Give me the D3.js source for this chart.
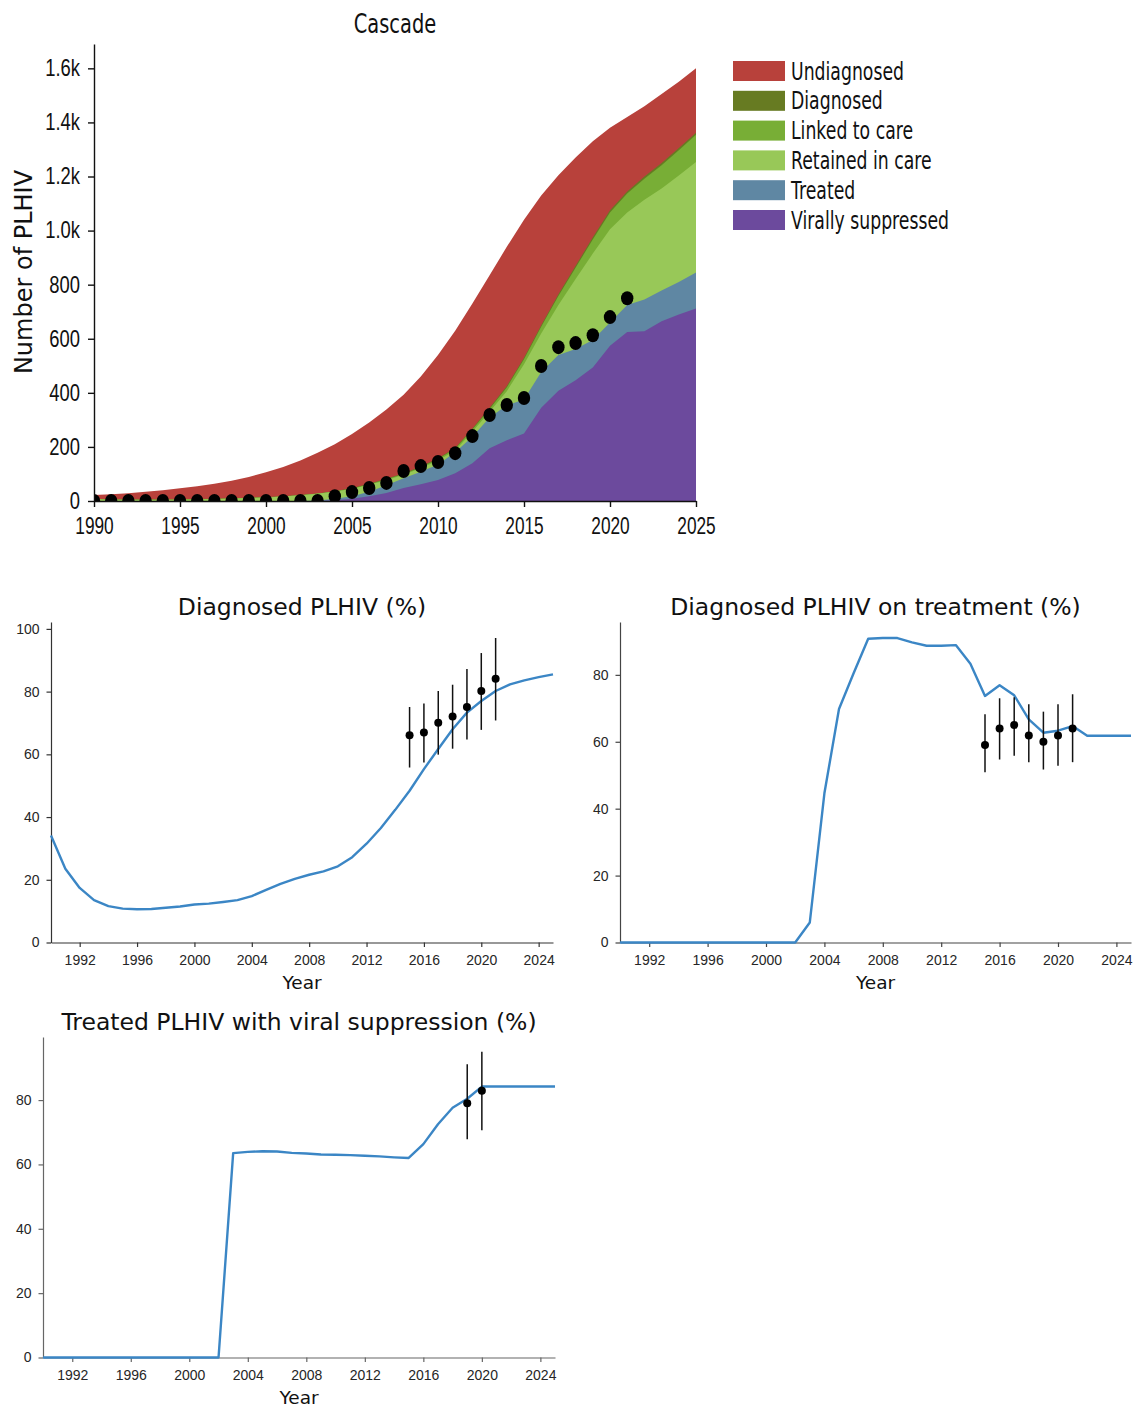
<!DOCTYPE html>
<html>
<head>
<meta charset="utf-8">
<script src="https://cdn.jsdelivr.net/npm/d3@7"></script>
<style>
  body { margin: 0; background: #fff; }
  svg { display: block; font-family: "DejaVu Sans", sans-serif; }
</style>
</head>
<body>
<svg id="chart" width="1138" height="1407"></svg>
<script>
// ---- cascade data (numbers of PLHIV, 1990..2025) ----
var years = d3.range(1990, 2026);
var plhiv      = [22,25,29,34,40,47,55,64,75,89,106,126,150,178,210,248,290,338,393,460,540,630,730,835,940,1040,1130,1205,1270,1330,1380,1420,1460,1505,1550,1600];
var diagnosed  = [7.5,6,5.5,5.5,5.5,6,7,8,10,12,14,18,22,28,36,48,64,82,103,128,158,196,268,345,425,530,650,765,870,975,1075,1145,1200,1250,1305,1362];
var linked     = [7,5.5,5,5,5,5.5,6.5,7.5,9.5,11.5,13.5,17.5,21.5,27.5,35.5,46,62,80,100,125,155,193,264,340,420,524,644,758,863,967,1067,1137,1192,1242,1297,1354];
var retained   = [6.5,5,4.5,4.5,4.5,5,6,7,9,11,13,17,21,27,35,44,60,77,97,121,150,187,256,330,406,506,619,725,821,915,1005,1067,1114,1156,1204,1254];
var treated    = [0,0,0,0,0,0,0,0,0,0,0,0,0,2,8,18,34,58,84,108,135,180,238,309,354,375,477,540,562,595,660,725,745,778,810,845];
var suppressed = [0,0,0,0,0,0,0,0,0,0,0,0,0,0,3,8,18,30,48,62,78,103,140,195,225,250,345,408,447,494,574,625,628,665,690,712];

var obsYears   = [1990,1991,1992,1993,1994,1995,1996,1997,1998,1999,2000,2001,2002,2003,2004,2005,2006,2007,2008,2009,2010,2011,2012,2013,2014,2015,2016,2017,2018,2019,2020,2021];
var obsTreated = [0,0,0,0,0,0,0,0,0,0,0,0,0,0,18,33,48,67,111,129,144,177,240,318,355,381,499,569,584,613,680,750];

var stageNames  = ['Undiagnosed','Diagnosed','Linked to care','Retained in care','Treated','Virally suppressed'];
var stageColors = ['#b8413b','#677b22','#78ae36','#98c858','#5f87a3','#6c4a9d'];
var cascadeTicks = [0,200,400,600,800,1000,1200,1400,1600];
var cascadeYearTicks = [1990,1995,2000,2005,2010,2015,2020,2025];

// ---- percentage panels ----
var diagPct = [34.1,23.5,17.4,13.5,11.6,10.8,10.6,10.7,11.1,11.5,12.1,12.4,12.9,13.5,14.8,16.8,18.7,20.3,21.6,22.7,24.3,27.2,31.5,36.5,42.3,48.4,55.3,61.7,68.0,73.3,77.0,80.2,82.3,83.6,84.6,85.5];
var diagObsYears = [2015,2016,2017,2018,2019,2020,2021];
var diagObs   = [66.1,67.0,70.1,72.1,75.1,80.2,84.1];
var diagObsLo = [55.8,57.4,59.9,61.8,64.7,67.8,70.8];
var diagObsHi = [75.1,76.2,80.2,82.2,87.2,92.3,97.1];

var treatPct = [0,0,0,0,0,0,0,0,0,0,0,0,0,6.0,44.6,69.8,80.5,90.8,91.0,91.0,89.7,88.7,88.7,88.9,83.3,73.7,76.9,73.9,66.7,62.7,63.3,64.7,61.8,61.8,61.8,61.8];
var treatObsYears = [2015,2016,2017,2018,2019,2020,2021];
var treatObs   = [59.0,64.0,65.0,61.9,60.0,61.9,64.0];
var treatObsLo = [50.9,54.7,55.8,53.9,51.7,52.8,53.9];
var treatObsHi = [68.2,73.0,73.3,71.2,69.0,71.2,74.2];

var vsPct = [0,0,0,0,0,0,0,0,0,0,0,0,0,63.5,63.9,64.1,64.0,63.6,63.4,63.1,63.0,62.9,62.7,62.5,62.2,62.0,66.3,72.5,77.6,80.4,84.2,84.2,84.2,84.2,84.2,84.2];
var vsObsYears = [2019,2020];
var vsObs   = [79.0,82.9];
var vsObsLo = [67.8,70.6];
var vsObsHi = [91.1,95.0];

var pctYearTicks = [1992,1996,2000,2004,2008,2012,2016,2020,2024];

var svg = d3.select('#chart');
var SQ = 0.72; // cascade text is horizontally squeezed

// ---------------- cascade ----------------
var cx = d3.scaleLinear().domain([1990, 2025]).range([94, 696]);
var cy = d3.scaleLinear().domain([0, 1690]).range([501, 44]);

var tops = [plhiv, diagnosed, linked, retained, treated, suppressed];
var casc = svg.append('g');

casc.append('clipPath').attr('id', 'cascClip')
  .append('rect').attr('x', cx(1990)).attr('y', cy(1690))
  .attr('width', cx(2025) - cx(1990)).attr('height', cy(0) - cy(1690));

// each stage drawn from zero, biggest first, so no seams between bands
tops.forEach(function(top, k) {
  var area = d3.area()
    .x(function(d, i) { return cx(years[i]); })
    .y0(cy(0))
    .y1(function(d) { return cy(d); });
  casc.append('path').datum(top)
    .attr('d', area)
    .attr('fill', stageColors[k]);
});

casc.append('g').attr('clip-path', 'url(#cascClip)')
  .selectAll('ellipse').data(obsYears).enter().append('ellipse')
  .attr('cx', function(d) { return cx(d); })
  .attr('cy', function(d, i) { return cy(obsTreated[i]); })
  .attr('rx', 6.2).attr('ry', 7)
  .attr('fill', '#000');

var cAxisY = casc.append('g').attr('transform', 'translate(' + cx(1990) + ',0)')
  .call(d3.axisLeft(cy).tickValues(cascadeTicks).tickSize(6).tickSizeOuter(0)
    .tickFormat(function(d) { return d >= 1000 ? (d / 1000).toFixed(1) + 'k' : d; }));
cAxisY.selectAll('text').attr('x', -14 / 0.8).attr('transform', 'scale(0.8,1)')
  .attr('font-size', 23).attr('fill', '#111');

var cAxisX = casc.append('g').attr('transform', 'translate(0,' + cy(0) + ')')
  .call(d3.axisBottom(cx).tickValues(cascadeYearTicks).tickSize(6).tickSizeOuter(0).tickFormat(d3.format('d')));
cAxisX.selectAll('text').attr('y', 16).attr('transform', 'scale(' + SQ + ',1)')
  .attr('font-size', 24).attr('fill', '#111');

casc.selectAll('.domain, .tick line').attr('stroke', '#111').attr('stroke-width', 1.4);

casc.append('text').attr('transform', 'translate(395,33) scale(' + SQ + ',1)')
  .attr('text-anchor', 'middle').attr('font-size', 27).attr('fill', '#111').text('Cascade');

casc.append('text').attr('transform', 'translate(32,272) rotate(-90)')
  .attr('text-anchor', 'middle').attr('font-size', 24).attr('fill', '#111').text('Number of PLHIV');

var leg = casc.append('g');
stageNames.forEach(function(name, k) {
  var yc = 71 + k * 29.8;
  leg.append('rect').attr('x', 733).attr('y', yc - 10).attr('width', 52).attr('height', 20)
    .attr('fill', stageColors[k]);
  leg.append('text').attr('transform', 'translate(791,' + (yc + 8.5) + ') scale(' + SQ + ',1)')
    .attr('font-size', 24).attr('fill', '#111').text(name);
});

// ---------------- percentage panels ----------------
function drawPanel(p) {
  var x = d3.scaleLinear().domain([1990, 2025]).range([p.left, p.right]);
  var y = d3.scaleLinear().domain([0, p.ymax]).range([p.bottom, p.top]);
  var g = svg.append('g');

  var ax = g.append('g').attr('transform', 'translate(0,' + p.bottom + ')')
    .call(d3.axisBottom(x).tickValues(pctYearTicks).tickSize(4.5).tickSizeOuter(0).tickFormat(d3.format('d')));
  var ay = g.append('g').attr('transform', 'translate(' + p.left + ',0)')
    .call(d3.axisLeft(y).tickValues(p.yticks).tickSize(4.5).tickSizeOuter(0));
  g.selectAll('.domain, .tick line').attr('stroke', p.spine).attr('stroke-width', 1.2);
  g.selectAll('.tick text').attr('font-size', 14).attr('fill', '#262626');
  ax.selectAll('text').attr('y', 13);
  ay.selectAll('text').attr('x', -11.5);

  var line = d3.line()
    .x(function(d, i) { return x(years[i]); })
    .y(function(d) { return y(d); });
  g.append('path').datum(p.values).attr('d', line)
    .attr('fill', 'none').attr('stroke', '#3b86c5').attr('stroke-width', 2.4)
    .attr('stroke-linejoin', 'round');

  g.selectAll('line.err').data(p.obsYears).enter().append('line').attr('class', 'err')
    .attr('x1', function(d) { return x(d); }).attr('x2', function(d) { return x(d); })
    .attr('y1', function(d, i) { return y(p.lo[i]); })
    .attr('y2', function(d, i) { return y(p.hi[i]); })
    .attr('stroke', '#111').attr('stroke-width', 1.5);
  g.selectAll('circle').data(p.obsYears).enter().append('circle')
    .attr('cx', function(d) { return x(d); })
    .attr('cy', function(d, i) { return y(p.obs[i]); })
    .attr('r', 4).attr('fill', '#000');

  g.append('text').attr('x', (p.left + p.right) / 2).attr('y', p.top - 7)
    .attr('text-anchor', 'middle').attr('font-size', 23.5).attr('fill', '#111').text(p.title);
  g.append('text').attr('x', (p.left + p.right) / 2).attr('y', p.bottom + 46)
    .attr('text-anchor', 'middle').attr('font-size', 18.5).attr('fill', '#111').text('Year');
}

drawPanel({ left: 51, right: 553, bottom: 942.5, top: 622, ymax: 102.2, yticks: [0,20,40,60,80,100],
  title: 'Diagnosed PLHIV (%)', values: diagPct, spine: '#333',
  obsYears: diagObsYears, obs: diagObs, lo: diagObsLo, hi: diagObsHi });

drawPanel({ left: 620, right: 1131, bottom: 942.5, top: 622, ymax: 95.8, yticks: [0,20,40,60,80],
  title: 'Diagnosed PLHIV on treatment (%)', values: treatPct, spine: '#444',
  obsYears: treatObsYears, obs: treatObs, lo: treatObsLo, hi: treatObsHi });

drawPanel({ left: 43, right: 555, bottom: 1357.5, top: 1037, ymax: 99.6, yticks: [0,20,40,60,80],
  title: 'Treated PLHIV with viral suppression (%)', values: vsPct, spine: '#666',
  obsYears: vsObsYears, obs: vsObs, lo: vsObsLo, hi: vsObsHi });
</script>
</body>
</html>
